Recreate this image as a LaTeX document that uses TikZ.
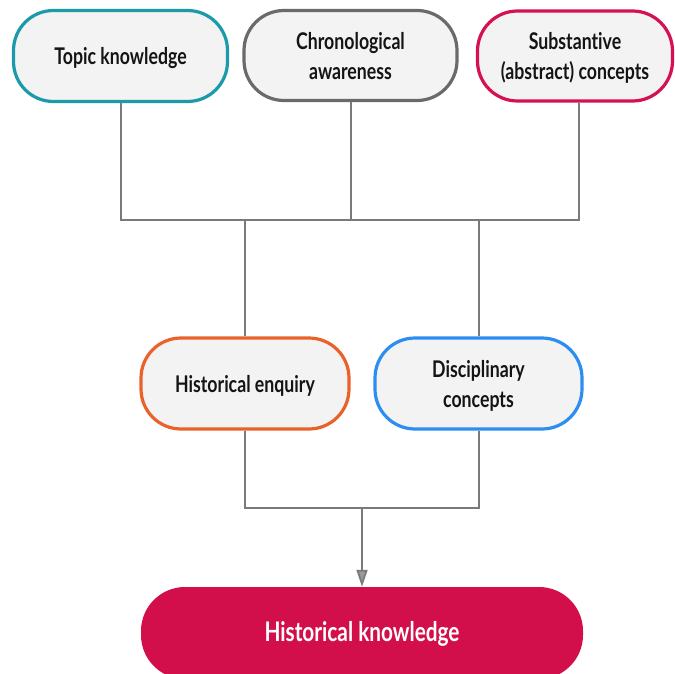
\documentclass[tikz,border=0pt]{standalone}
\usepackage{fontspec}
\setmainfont{Lato}[FakeStretch=0.77,Ligatures=NoCommon]
\usetikzlibrary{arrows.meta}
\definecolor{boxfill}{HTML}{F3F3F3}
\definecolor{cteal}{HTML}{1B9AAA}
\definecolor{cgray}{HTML}{6A6A6A}
\definecolor{ccrim}{HTML}{D5114F}
\definecolor{corange}{HTML}{E8622A}
\definecolor{cblue}{HTML}{2B8EF0}
\definecolor{cline}{HTML}{7A7A7A}
\definecolor{hkfill}{HTML}{D30F4B}
\newcommand{\lbl}[2][-3pt]{\raisebox{#1}[\height][\depth]{\begin{tabular}{@{}c@{}}#2\end{tabular}}}
\begin{document}
\begin{tikzpicture}[x=1pt,y=-1pt,
  pill/.style={draw, line width=3.2pt, fill=boxfill, rounded corners=40pt,
    font=\fontsize{23}{30}\selectfont\bfseries, text=black!92, inner sep=0pt},
  conn/.style={draw=cline, line width=1.8pt},
  hkbox/.style={fill=hkfill, rounded corners=44pt, text=white,
    font=\fontsize{27}{32}\selectfont\bfseries, inner sep=0pt}]
\useasboundingbox (0,0) rectangle (675,674);
\clip (0,0) rectangle (675,674);
% top nodes
\node[pill, draw=cteal, minimum width=214pt, minimum height=91pt] (topic) at (120.5,56) {\lbl{Topic knowledge}};
\node[pill, draw=cgray, minimum width=213pt, minimum height=90pt] (chrono) at (350.5,55.5) {\lbl{Chronological\\awareness}};
\node[pill, draw=ccrim, minimum width=195pt, minimum height=90pt] (subst) at (575,56) {\lbl{Substantive\\(abstract) concepts}};
% middle nodes
\node[pill, draw=corange, minimum width=208pt, minimum height=91pt] (enq) at (245,383.5) {\lbl{Historical enquiry}};
\node[pill, draw=cblue, minimum width=207pt, minimum height=91pt] (disc) at (478.5,383.5) {\lbl{Disciplinary\\concepts}};
% bottom node
\node[hkbox, minimum width=442pt, minimum height=92pt] (hk) at (362,633) {\lbl[-2pt]{Historical knowledge}};
% junctions
\coordinate (j1) at (121,220);
\coordinate (j2) at (351,220);
\coordinate (j3) at (579,220);
\coordinate (j4) at (245,220);
\coordinate (j5) at (479,220);
\coordinate (k1) at (245,508);
\coordinate (k2) at (479,508);
\coordinate (k3) at (362,508);
% connectors
\draw[conn] (topic.south -| j1) -- (j1) -- (j3) -- (subst.south -| j3);
\draw[conn] (chrono.south -| j2) -- (j2);
\draw[conn] (j4) -- (enq.north -| j4);
\draw[conn] (j5) -- (disc.north -| j5);
\draw[conn] (enq.south -| k1) -- (k1) -- (k2) -- (disc.south -| k2);
\draw[conn, -{Triangle[length=17pt,width=11pt,fill=cline!75!white]}] (k3) -- (hk.north);
\end{tikzpicture}
\end{document}
